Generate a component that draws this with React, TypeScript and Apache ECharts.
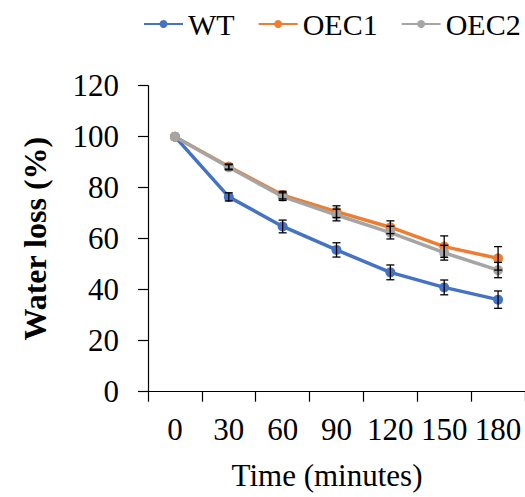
import React, { useEffect, useRef } from "react";
import * as echarts from "echarts";

const categories = ["0", "30", "60", "90", "120", "150", "180"];
const wt = [100, 76.4, 64.8, 55.6, 46.8, 40.9, 36.1];
const oec1 = [100, 88.3, 77.1, 70.6, 64.5, 56.9, 52.3];
const oec2 = [100, 88.0, 76.5, 69.3, 62.4, 54.5, 47.7];
const wtErr = [0, 1.6, 2.5, 2.8, 2.9, 2.9, 3.4];
const oec1Err = [0, 1.0, 1.5, 2.3, 2.5, 4.2, 4.6];
const oec2Err = [0, 1.0, 1.5, 2.3, 2.5, 2.9, 3.0];
const yTicks = { min: 0, max: 120, interval: 20 };

const FONT = "Liberation Serif";

function errData(mean: number[], err: number[]) {
  return mean
    .map((m, i) => [i, m - err[i], m + err[i], err[i]])
    .filter((d) => d[3] > 0);
}

function errSeries(name: string, mean: number[], err: number[]) {
  return {
    type: "custom",
    name: name + " err",
    z: 10,
    data: errData(mean, err),
    encode: { x: 0, y: [1, 2] },
    renderItem: (params: any, api: any) => {
      const x = api.value(0);
      const lo = api.coord([x, api.value(1)]);
      const hi = api.coord([x, api.value(2)]);
      const w = 4;
      const style = { stroke: "#000", lineWidth: 1.3 };
      return {
        type: "group",
        children: [
          { type: "line", shape: { x1: lo[0], y1: lo[1], x2: hi[0], y2: hi[1] }, style },
          { type: "line", shape: { x1: lo[0] - w, y1: lo[1], x2: lo[0] + w, y2: lo[1] }, style },
          { type: "line", shape: { x1: hi[0] - w, y1: hi[1], x2: hi[0] + w, y2: hi[1] }, style },
        ],
      };
    },
  };
}

function lineSeries(name: string, data: number[], color: string) {
  return {
    type: "line",
    name,
    data,
    symbol: "circle",
    symbolSize: 10,
    lineStyle: { color, width: 3.5 },
    itemStyle: { color },
    z: 3,
  };
}

export default function App() {
  const ref = useRef<HTMLDivElement>(null);
  useEffect(() => {
    document.body.style.margin = "0";
    if (!ref.current) return;
    const chart = echarts.init(ref.current, undefined, { renderer: "svg" });
    chart.setOption({
      animation: false,
      backgroundColor: "#fff",
      textStyle: { fontFamily: FONT },
      legend: {
        data: ["WT", "OEC1", "OEC2"],
        left: 143,
        top: 9,
        padding: 0,
        width: 400,
        itemWidth: 39,
        itemHeight: 10,
        itemGap: 23,
        textStyle: { fontFamily: FONT, fontSize: 30, color: "#000" },
      },
      grid: { left: 148, right: 0, top: 85.7, bottom: 105.3 },
      xAxis: {
        type: "category",
        data: categories,
        boundaryGap: true,
        name: "Time (minutes)",
        nameLocation: "middle",
        nameGap: 68,
        nameTextStyle: { fontFamily: FONT, fontSize: 31, color: "#000", padding: [0, 19, 0, 0] },
        axisLine: { lineStyle: { color: "#000", width: 1.2 } },
        axisTick: { show: true, length: 10, alignWithLabel: false, lineStyle: { color: "#000", width: 1.2 } },
        axisLabel: { fontFamily: FONT, fontSize: 31, color: "#000", margin: 22, interval: 0 },
        splitLine: { show: false },
      },
      yAxis: {
        type: "value",
        min: yTicks.min,
        max: yTicks.max,
        interval: yTicks.interval,
        name: "Water loss (%)",
        nameLocation: "middle",
        nameGap: 97,
        nameTextStyle: { fontFamily: FONT, fontSize: 32, color: "#000", fontWeight: "bold" },
        axisLine: { show: true, lineStyle: { color: "#000", width: 1.2 } },
        axisTick: { show: true, length: 10, lineStyle: { color: "#000", width: 1.2 } },
        axisLabel: { fontFamily: FONT, fontSize: 31, color: "#000", margin: 29 },
        splitLine: { show: false },
      },
      series: [
        lineSeries("WT", wt, "#4472C4"),
        lineSeries("OEC1", oec1, "#ED7D31"),
        lineSeries("OEC2", oec2, "#A5A5A5"),
        errSeries("WT", wt, wtErr),
        errSeries("OEC1", oec1, oec1Err),
        errSeries("OEC2", oec2, oec2Err),
      ],
    });
    return () => chart.dispose();
  }, []);
  return <div ref={ref} style={{ width: 525, height: 497 }} />;
}
